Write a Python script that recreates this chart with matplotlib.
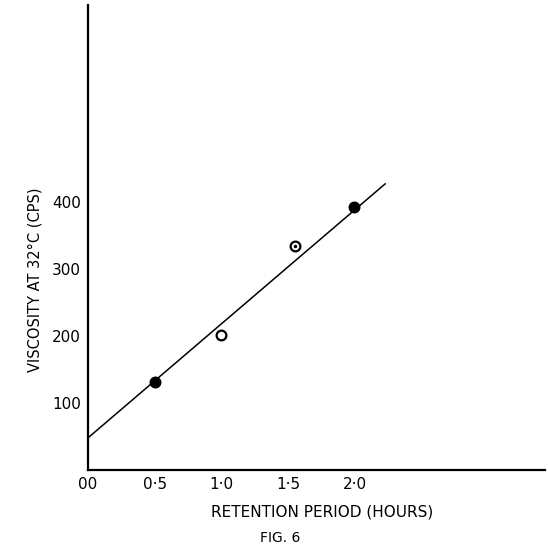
"""
Fig. 6 — viscosity at 32 °C versus retention period, with straight-line fit.
"""

import numpy as np
import matplotlib.pyplot as plt

hours = [0.5, 1.0, 1.55, 2.0]
viscosity = [132, 201, 334, 393]
marker_face = ["black", "white", "white", "black"]

# fitted line (intercept, slope) and its drawn range
fit_intercept = 48
fit_slope = 170
fit_x = [0.0, 2.23]

xtick_pos = [0.0, 0.5, 1.0, 1.5, 2.0]
xtick_lbl = ["00", "0·5", "1·0", "1·5", "2·0"]
ytick_pos = [100, 200, 300, 400]
ytick_lbl = ["100", "200", "300", "400"]


def main():
    fig = plt.figure(figsize=(5.48, 5.48), dpi=100)
    ax = fig.add_axes([0.1606, 0.1423, 0.834, 0.8485])

    xs = np.array(fit_x)
    ax.plot(xs, fit_intercept + fit_slope * xs, color="black", lw=1.1)

    for x, y, fc in zip(hours, viscosity, marker_face):
        ax.plot(x, y, "o", ms=7, mfc=fc, mec="black", mew=1.6)
    # small centre dot on the 1.5 h point
    ax.plot(hours[2], viscosity[2], ".", ms=3, color="black")

    ax.set_xlim(0, 3.43)
    ax.set_ylim(0, 694)
    for side in ("top", "right"):
        ax.spines[side].set_visible(False)
    ax.spines["left"].set_linewidth(1.6)
    ax.spines["bottom"].set_linewidth(1.6)

    ax.set_xticks(xtick_pos, xtick_lbl, fontsize=11)
    ax.set_yticks(ytick_pos, ytick_lbl, fontsize=11)
    ax.tick_params(length=0, pad=5)

    ax.set_xlabel("RETENTION PERIOD (HOURS)", fontsize=11, labelpad=8)
    ax.xaxis.set_label_coords(0.5, -0.075)
    ax.xaxis.label.set_x((322 - 88) / 457)
    ax.set_ylabel("VISCOSITY AT 32°C (CPS)", fontsize=10.5)
    ax.yaxis.set_label_coords(-0.1, (470 - 280) / 465)

    fig.text(280 / 548, 1 - 538 / 548, "FIG. 6", fontsize=10,
             ha="center", va="center")

    fig.savefig("out.png", dpi=100)
    plt.close(fig)


if __name__ == "__main__":
    main()
